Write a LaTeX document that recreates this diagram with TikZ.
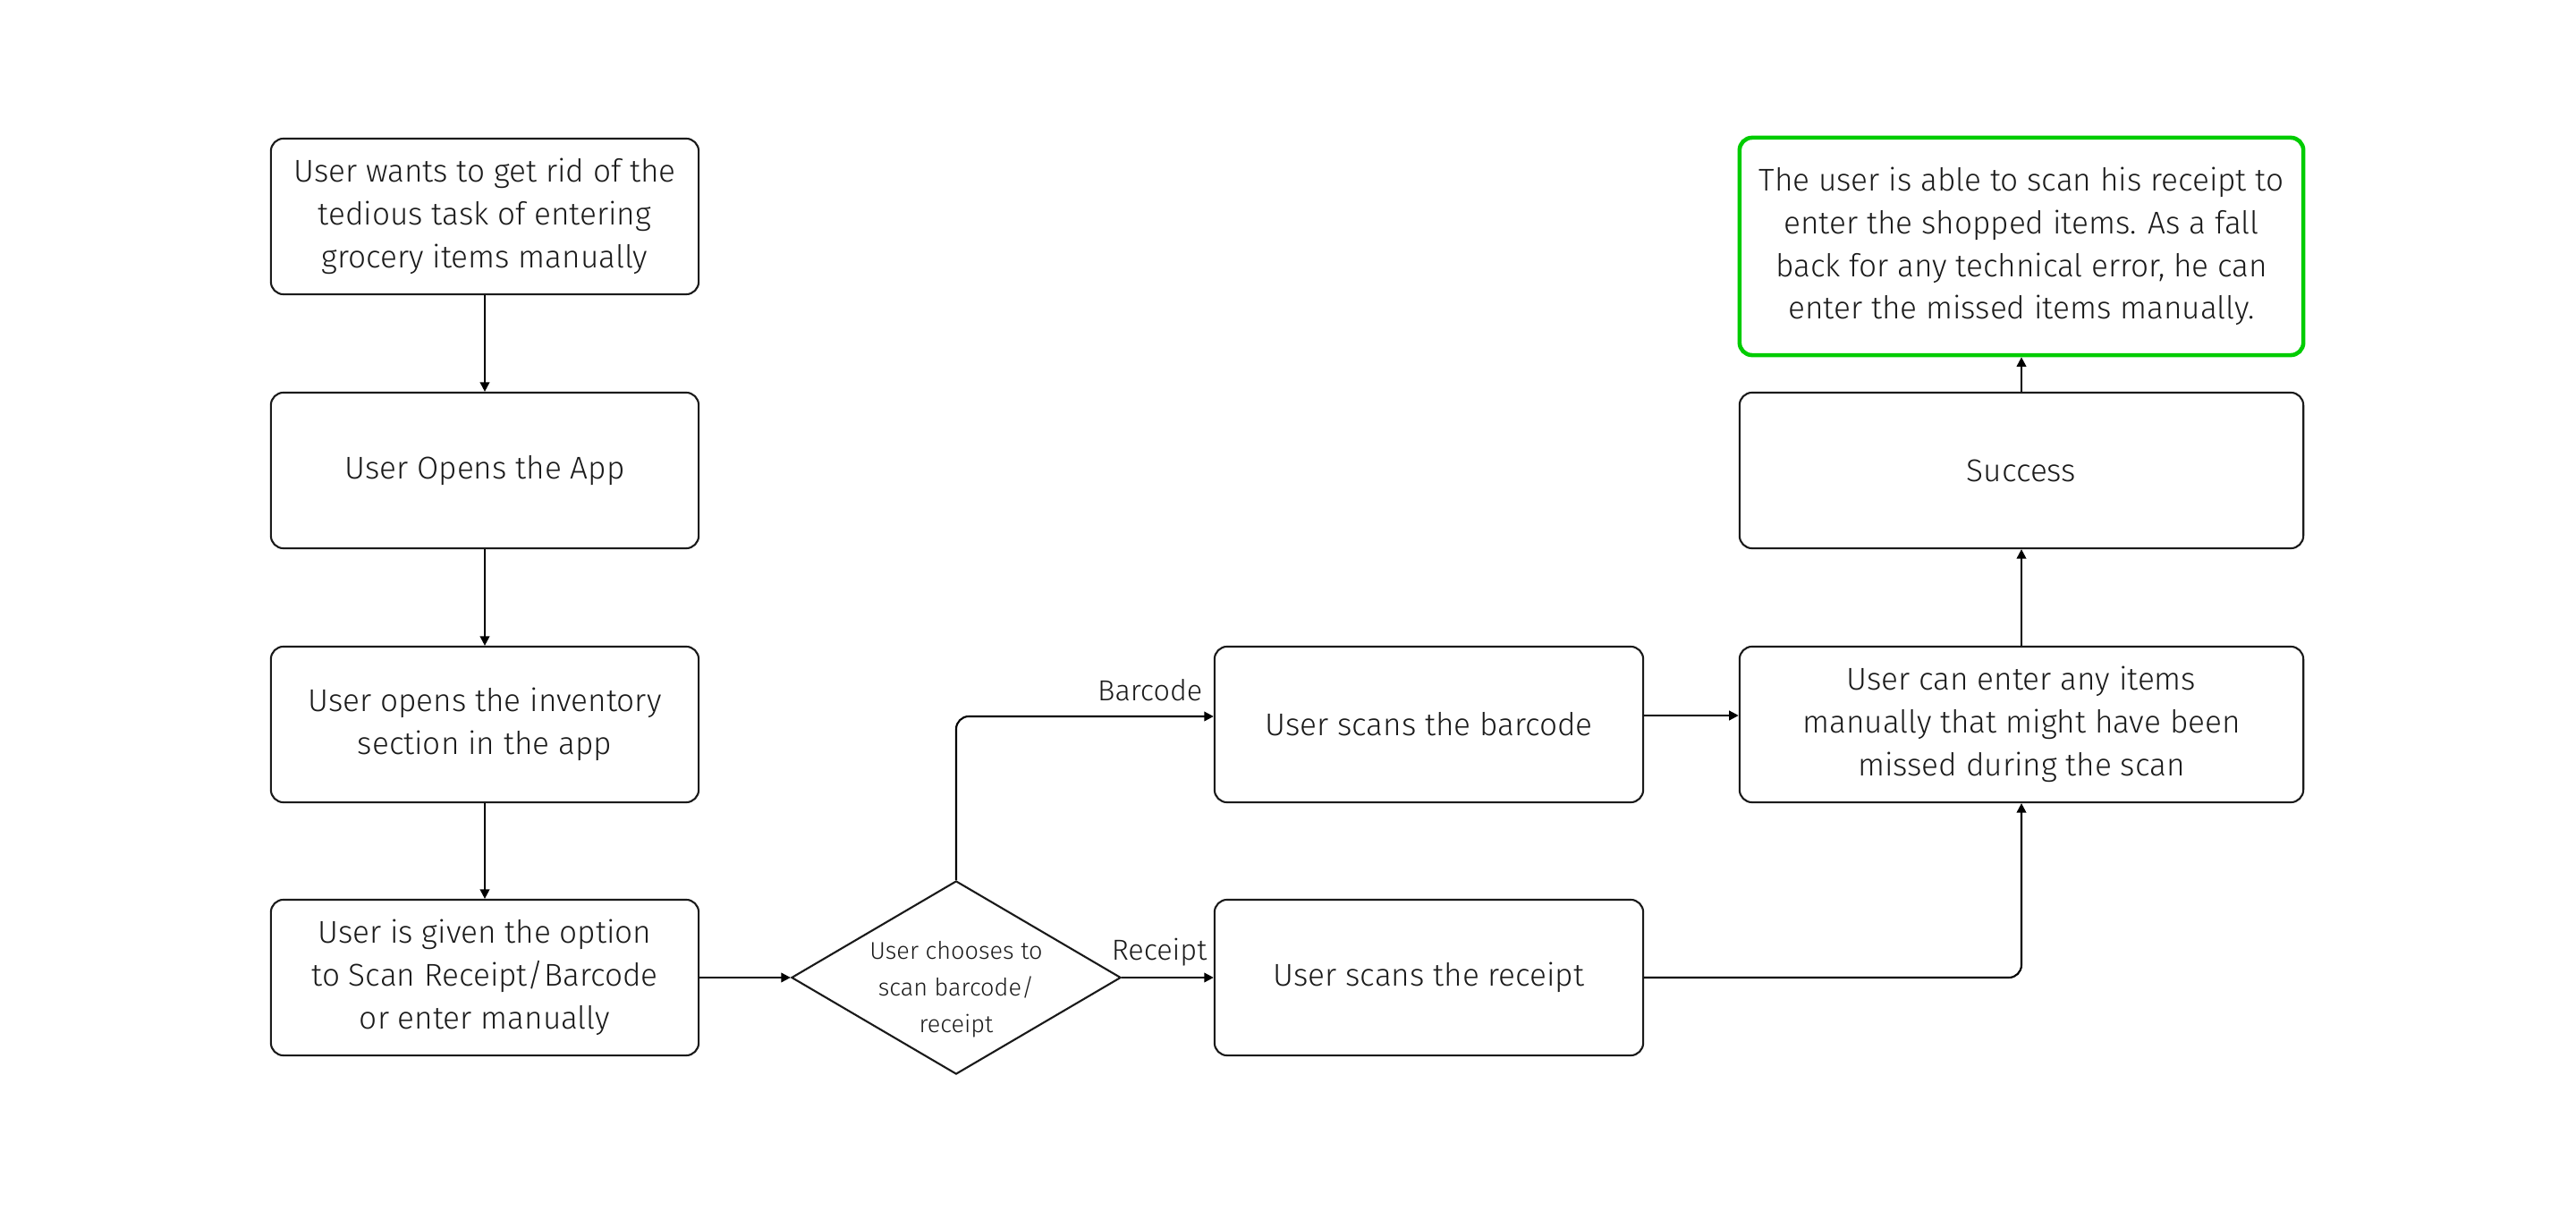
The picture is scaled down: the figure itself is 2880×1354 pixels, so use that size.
\documentclass[tikz,border=0pt]{standalone}
\usepackage{fontspec}
\setmainfont{Fira Sans Light}
\usetikzlibrary{shapes.geometric,arrows.meta,calc}
\definecolor{okgreen}{HTML}{00CC00}
\definecolor{ink}{HTML}{1A1A1A}
\tikzset{
  box/.style={draw=ink, line width=0.6pt, rounded corners=4pt, align=center,
    minimum width=#1, minimum height=1.74cm, inner sep=0pt, text=ink,
    font=\fontsize{10pt}{13.6pt}\selectfont},
  box/.default=4.78cm,
  arr/.style={draw=black, line width=0.6pt, -{Triangle[length=3pt,width=3pt]}},
  lbl/.style={font=\fontsize{9.2pt}{13.5pt}\selectfont, text=ink, inner sep=0pt, anchor=east}
}
\begin{document}
\begin{tikzpicture}[x=0.01cm,y=-0.01cm]
\useasboundingbox (0,0) rectangle (2880,1354);
% left column
\node[box] (n1) at (542,242) {User wants to get rid of the\\tedious task of entering\\grocery items manually};
\node[box] (n2) at (542,526) {User Opens the App};
\node[box] (n3) at (542,810) {User opens the inventory\\section in the app};
\node[box] (n4) at (542,1093) {User is given the option\\to Scan Receipt/Barcode\\or enter manually};
% decision
\node[diamond, draw=ink, line width=0.6pt, minimum width=3.68cm, minimum height=2.16cm, inner sep=0pt] (d) at (1069,1093) {};
\node[align=center, text=ink, font=\fontsize{7.7pt}{11.6pt}\selectfont, inner sep=0pt] (dt) at (1069,1106) {User chooses to\\scan barcode/\\receipt};
% middle column
\node[box=4.79cm] (bc) at (1597.5,810) {User scans the barcode};
\node[box=4.79cm] (rc) at (1597.5,1093) {User scans the receipt};
% right column
\node[box=6.30cm] (m) at (2260,810) {User can enter any items\\manually that might have been\\missed during the scan};
\node[box=6.30cm] (s) at (2260,526) {Success};
\node[box=6.30cm, minimum height=2.43cm, draw=okgreen, line width=1.3pt] (g) at (2260,275.5) {The user is able to scan his receipt to\\enter the shopped items. As a fall\\back for any technical error, he can\\enter the missed items manually.};
% connectors
\draw[arr] (n1) -- (n2);
\draw[arr] (n2) -- (n3);
\draw[arr] (n3) -- (n4);
\draw[arr] (n4) -- (d.west);
\draw[arr, rounded corners=4pt] (d.north) |- ([yshift=0.09cm]bc.west);
\draw[arr] (d.east) -- (rc.west);
\draw[arr] ([yshift=0.1cm]bc.east) -- ([yshift=0.1cm]m.west);
\draw[arr, rounded corners=4pt] (rc.east) -| (m.south);
\draw[arr] (m) -- (s);
\draw[arr] (s) -- (g);
% labels
\node[lbl] (lb) at (1345,772) {Barcode};
\node[lbl] (lr) at (1350,1065) {Receipt};
\end{tikzpicture}
\end{document}
